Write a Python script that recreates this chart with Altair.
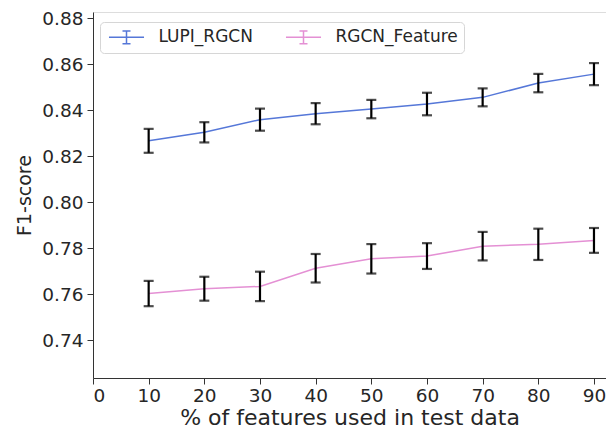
import altair as alt
import pandas as pd

pct = [10, 20, 30, 40, 50, 60, 70, 80, 90]
lupi_mean = [0.8266, 0.8303, 0.8358, 0.8384, 0.8404, 0.8426, 0.8455, 0.8517, 0.8556]
lupi_err = [0.0052, 0.0044, 0.0048, 0.0046, 0.0040, 0.0049, 0.0039, 0.0040, 0.0048]
rgcn_mean = [0.7602, 0.7623, 0.7633, 0.7712, 0.7753, 0.7765, 0.7808, 0.7816, 0.7833]
rgcn_err = [0.0055, 0.0052, 0.0064, 0.0062, 0.0064, 0.0056, 0.0062, 0.0068, 0.0054]
series_names = ["LUPI_RGCN", "RGCN_Feature"]
series_colors = ["#5577d8", "#e490d4"]
y_ticks = [0.74, 0.76, 0.78, 0.80, 0.82, 0.84, 0.86, 0.88]
x_ticks = [0, 10, 20, 30, 40, 50, 60, 70, 80, 90]

rows = []
for name, means, errs in [(series_names[0], lupi_mean, lupi_err), (series_names[1], rgcn_mean, rgcn_err)]:
    for p, m, e in zip(pct, means, errs):
        rows.append({"pct": p, "f1": m, "lo": m - e, "hi": m + e, "series": name})
df = pd.DataFrame(rows)

FONT = "DejaVu Sans"
TXT = "#262626"
xscale = alt.Scale(domain=[0, 92.16], nice=False, zero=False)
yscale = alt.Scale(domain=[0.72348, 0.88261], nice=False, zero=False)

xaxis = alt.Axis(values=x_ticks, title="% of features used in test data", grid=False,
                 labelFontSize=18.5, titleFontSize=22, titleFontWeight="normal",
                 tickSize=6, labelPadding=2, titleBaseline="alphabetic", titleY=46,
                 labelColor=TXT, titleColor=TXT, domainColor="#333333", tickColor="#333333",
                 labelFont=FONT, titleFont=FONT)
yaxis = alt.Axis(values=y_ticks, format=".2f", title="F1-score", grid=False,
                 labelFontSize=18.5, titleFontSize=19, titleFontWeight="normal",
                 tickSize=6, labelPadding=4, titlePadding=7,
                 labelColor=TXT, titleColor=TXT, domainColor="#333333", tickColor="#333333",
                 labelFont=FONT, titleFont=FONT)

legend_symbol = "M-2.19,0H2.19M0,-0.8V0.8M-0.5,-0.8H0.5M-0.5,0.8H0.5"

base = alt.Chart(df)

lines = base.mark_line(strokeWidth=1.5).encode(
    x=alt.X("pct:Q", scale=xscale, axis=xaxis),
    y=alt.Y("f1:Q", scale=yscale, axis=yaxis),
    color=alt.Color("series:N", scale=alt.Scale(domain=series_names, range=series_colors),
                    legend=alt.Legend(title=None, orient="none", legendX=7, legendY=10,
                                      direction="horizontal", columns=2,
                                      symbolType=legend_symbol, symbolSize=256,
                                      symbolOffset=11.5,
                                      symbolStrokeWidth=1.5, labelFontSize=17, labelFont=FONT,
                                      labelColor=TXT, labelOffset=23, columnPadding=29,
                                      padding=6, strokeColor="#d6d6d6", fillColor="white",
                                      cornerRadius=4)),
)

errs = base.mark_errorbar(ticks={"size": 10, "thickness": 2.2, "color": "black"},
                          thickness=2.2, color="black").encode(
    x=alt.X("pct:Q", scale=xscale),
    y=alt.Y("lo:Q", scale=yscale, title="F1-score"),
    y2="hi:Q",
)

chart = alt.layer(lines, errs).properties(
    width=513, height=366,
    autosize=alt.AutoSizeParams(type="none"),
    padding={"left": 85, "top": 4, "right": 0, "bottom": 52},
).configure_view(stroke=None).configure(background="white")

chart.save("out.html", embed_options={"renderer": "svg", "actions": False})
